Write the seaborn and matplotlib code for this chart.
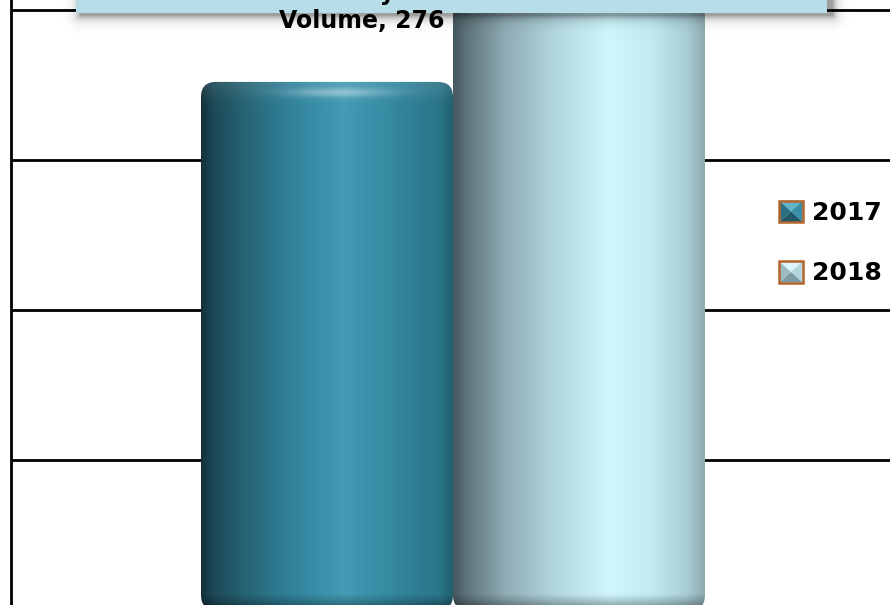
import numpy as np
import pandas as pd
import matplotlib
matplotlib.use("Agg")
import matplotlib.pyplot as plt
from matplotlib.colors import LinearSegmentedColormap
from matplotlib.patches import FancyBboxPatch, Rectangle, Patch, Polygon
from matplotlib.legend_handler import HandlerBase
import seaborn as sns

# ---- data ----
METRIC = "Daily Volume"
YEARS = ["2017", "2018"]
VOLUME = [276, 330]          # 2018 runs off the top of the crop, value estimated
Y_BASE = 100                 # axis minimum, bars start here
Y_LIM = (101.7, 303.3)
Y_TICKS = [150, 200, 250, 300]
X_LIM = (-0.7016, 0.6937)

# left-to-right shading stops of each cylinder
SHADES = {
    "2017": [(0.0, "#14303a"), (0.04, "#1b4654"), (0.15, "#25606f"), (0.35, "#30819a"),
             (0.57, "#449bb4"), (0.75, "#3589a1"), (0.95, "#2a7488"), (1.0, "#22606f")],
    "2018": [(0.0, "#455960"), (0.05, "#5d7379"), (0.2, "#8eaab2"), (0.4, "#b2d6df"),
             (0.62, "#d0f6fd"), (0.8, "#c0e9f1"), (0.93, "#a9cdd6"), (1.0, "#8fa9af")],
}
# legend marker bevel faces: top, right, bottom, left
BEVEL = {
    "2017": ["#63b4ca", "#3a8ea5", "#1f5869", "#2a6f82"],
    "2018": ["#dcf5fa", "#b4d6de", "#7e9ba2", "#9bbcc4"],
}
BASE_COLORS = ["#31849b", "#b7dde8"]
BOX_COLOR = "#b7dde8"
CORNER_PX = 15


class BevelHandler(HandlerBase):
    def __init__(self, faces):
        super().__init__()
        self.faces = faces

    def create_artists(self, legend, orig_handle, xdescent, ydescent, width, height, fontsize, trans):
        x0, y0 = -xdescent, -ydescent
        x1, y1 = x0 + width, y0 + height
        cx, cy = (x0 + x1) / 2, (y0 + y1) / 2
        tris = [[(x0, y1), (x1, y1), (cx, cy)], [(x1, y1), (x1, y0), (cx, cy)],
                [(x1, y0), (x0, y0), (cx, cy)], [(x0, y0), (x0, y1), (cx, cy)]]
        arts = [Polygon(t, closed=True, facecolor=c, edgecolor="none", transform=trans)
                for t, c in zip(tris, self.faces)]
        arts.append(Rectangle((x0, y0), width, height, facecolor="none", edgecolor="#b5652c",
                              linewidth=1.8, transform=trans))
        return arts


sns.set_style("white")
fig = plt.figure(figsize=(8.9, 6.05), dpi=100)
W_PX, H_PX = 890, 605
ax = fig.add_axes([11 / W_PX, 0, 879 / W_PX, 1])

df = pd.DataFrame({"metric": [METRIC] * len(YEARS), "year": YEARS, "volume": VOLUME})
sns.barplot(data=df, x="metric", y="volume", hue="year", hue_order=YEARS,
            palette=BASE_COLORS, width=0.8, ax=ax, legend=False)
ax.set_xlim(*X_LIM)
ax.set_ylim(*Y_LIM)

# ---- cylinder look: gradient image clipped to a rounded box over each bar ----
for cont, year in zip(ax.containers, YEARS):
    bar = cont[0]
    x0, w, top = bar.get_x(), bar.get_width(), bar.get_height()
    p0 = ax.transData.transform((x0, Y_BASE))
    p1 = ax.transData.transform((x0 + w, top))
    wpx, hpx = int(round(p1[0] - p0[0])), int(round(p1[1] - p0[1]))
    cmap = LinearSegmentedColormap.from_list(year, SHADES[year])
    xs = np.linspace(0, 1, wpx)
    img = np.tile(cmap(xs)[:, :3], (hpx, 1, 1))
    d_top = np.arange(hpx)[:, None].astype(float)
    d_bot = hpx - 1 - d_top
    shade = 0.5 + 0.5 * np.clip(d_bot / 16, 0, 1) ** 0.7
    img = img * shade[..., None]
    glint = 0.35 * np.exp(-((d_top - 11) / 4.5) ** 2) * np.exp(-((xs[None, :] - 0.55) / 0.2) ** 2)
    cap = 0.09 * np.exp(-(d_top / 14) ** 2) * np.ones_like(xs)[None, :]
    light = np.clip(glint + cap, 0, 1)
    img = img + (1 - img) * light[..., None]
    im = ax.imshow(np.clip(img, 0, 1), extent=(x0, x0 + w, Y_BASE, top), origin="upper",
                   aspect="auto", interpolation="bilinear", zorder=2)
    px_x = (p1[0] - p0[0]) / w
    px_y = (p1[1] - p0[1]) / (top - Y_BASE)
    clip = FancyBboxPatch((x0, Y_BASE), w, top - Y_BASE,
                          boxstyle=f"round,pad=0,rounding_size={CORNER_PX / px_x}",
                          mutation_aspect=px_x / px_y, transform=ax.transData,
                          facecolor="none", edgecolor="none")
    ax.add_patch(clip)
    im.set_clip_path(clip)
    bar.set_facecolor("none")
    bar.set_edgecolor("none")

ax.set_xlim(*X_LIM)
ax.set_ylim(*Y_LIM)

# ---- axes styling ----
ax.set_yticks(Y_TICKS)
ax.yaxis.grid(True, color="black", linewidth=2)
ax.xaxis.grid(False)
ax.set_axisbelow(True)
ax.tick_params(length=0, labelleft=False, labelbottom=False)
ax.set_xlabel("")
ax.set_ylabel("")
for side in ["top", "right", "bottom"]:
    ax.spines[side].set_visible(False)
ax.spines["left"].set_color("black")
ax.spines["left"].set_linewidth(2)

# ---- title box with drop shadow (cut by the crop) ----
bx0, bx1, bh = 76, 827, 13
sx0, sx1, sy1 = 80, 832, 15
gx = np.arange(60, 860)
gy = np.arange(0, 40)
dx = np.maximum(np.maximum(sx0 - gx, gx - sx1), 0)[None, :]
dy = np.maximum(gy - sy1, 0)[:, None]
dist = np.sqrt(dx ** 2 + dy ** 2)
shadow = np.zeros((len(gy), len(gx), 4))
shadow[..., 3] = 0.38 * np.exp(-dist / 4.5)
ax.imshow(shadow, extent=(60 / W_PX, 860 / W_PX, 1 - 40 / H_PX, 1), origin="upper",
          transform=fig.transFigure, aspect="auto", zorder=4, clip_on=False)
ax.add_patch(Rectangle((bx0 / W_PX, 1 - bh / H_PX), (bx1 - bx0) / W_PX, bh / H_PX + 0.01,
                       facecolor=BOX_COLOR, edgecolor="none", transform=fig.transFigure,
                       zorder=5, clip_on=False))
ax.set_xlim(*X_LIM)
ax.set_ylim(*Y_LIM)

# ---- data label for 2017 ----
first, second = METRIC.split(" ", 1)
bar17 = ax.containers[0][0]
ax.annotate(f"{first}\n{second}, {VOLUME[0]}",
            xy=(bar17.get_x() + bar17.get_width() / 2, VOLUME[0]),
            xytext=(35, 49), textcoords="offset pixels", ha="center", va="bottom",
            fontsize=17, fontweight="bold", color="black", zorder=10,
            annotation_clip=False)

# ---- legend ----
handles = [Patch(facecolor=c) for c in BASE_COLORS]
ax.legend(handles, YEARS, loc="center left", bbox_to_anchor=(779 / W_PX, 1 - 243 / H_PX),
          bbox_transform=fig.transFigure, frameon=False, labelcolor="black",
          prop=dict(weight="bold", size=18), handlelength=0.95, handleheight=0.95,
          handletextpad=0.35, labelspacing=1.45, borderpad=0, borderaxespad=0,
          handler_map={h: BevelHandler(BEVEL[y]) for h, y in zip(handles, YEARS)})

plt.savefig("out.png", dpi=100)
plt.close()
